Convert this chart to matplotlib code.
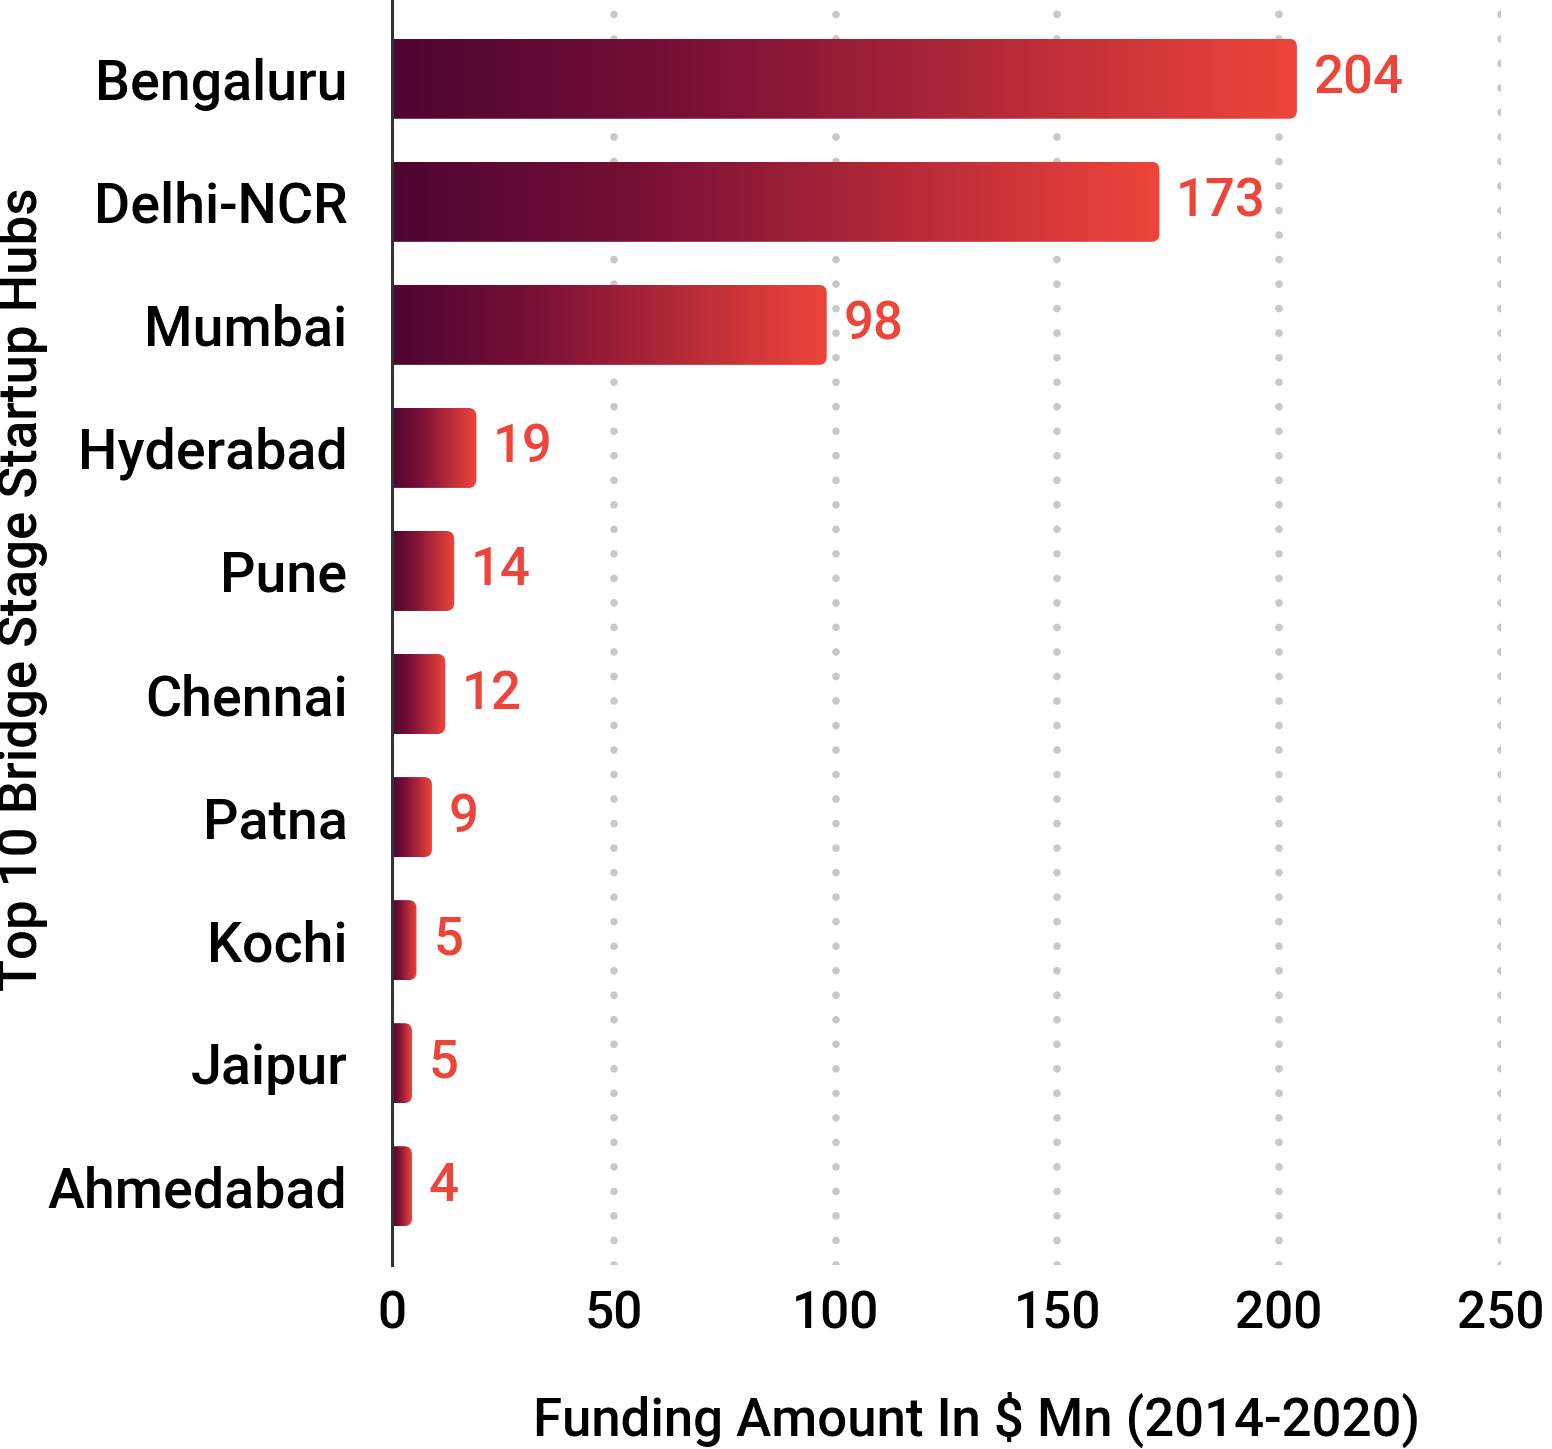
import numpy as np
import matplotlib.pyplot as plt
from matplotlib.patches import FancyBboxPatch
from matplotlib.colors import LinearSegmentedColormap

# データ
cities = ['Bengaluru', 'Delhi-NCR', 'Mumbai', 'Hyderabad', 'Pune',
          'Chennai', 'Patna', 'Kochi', 'Jaipur', 'Ahmedabad']
funding = [204, 173, 98, 19, 14, 12, 9, 5.5, 4.5, 4.5]
labels = ['204', '173', '98', '19', '14', '12', '9', '5', '5', '4']
xticks = [0, 50, 100, 150, 200, 250]

plt.rcParams['font.family'] = ['Roboto', 'DejaVu Sans']
plt.rcParams['font.weight'] = 500
plt.rcParams['axes.labelweight'] = 500

dark = '#4c0530'
red = '#ee453a'
cmap = LinearSegmentedColormap.from_list('bar', [dark, '#7a1036', '#b52a38', red])

fig = plt.figure(figsize=(15.52, 14.49), dpi=100)
ax = fig.add_axes([0.2526, 0.127, 0.7145, 0.873])

# 点線グリッド
for x in xticks[1:]:
    ax.axvline(x, color='#c8c8c8', lw=5.5, linestyle=(0, (0.01, 3.2)),
               dash_capstyle='round', zorder=0)

grad = np.linspace(0, 1, 256).reshape(1, -1)
h = 0.65
for i, (v, lab) in enumerate(zip(funding, labels)):
    # 右端だけ角丸（左側は軸の外に出して隠す）
    box = FancyBboxPatch((-5, i - h / 2), v + 5, h,
                         boxstyle='round,pad=0,rounding_size=1.8',
                         mutation_aspect=0.036, fc='none', ec='none')
    ax.add_patch(box)
    im = ax.imshow(grad, cmap=cmap, aspect='auto',
                   extent=(0, v, i + h / 2, i - h / 2), zorder=2)
    im.set_clip_path(box)
    ax.annotate(lab, (v, i), xytext=(12, 0), textcoords='offset points',
                va='center', ha='left', color=red, fontsize=38)

ax.set_xlim(0, 250)
ax.set_ylim(9.64, -0.64)

ax.set_yticks(range(len(cities)))
ax.set_yticklabels(cities)
ax.set_xticks(xticks)
ax.tick_params(axis='y', length=0, pad=32, labelsize=40)
ax.tick_params(axis='x', length=0, pad=18, labelsize=37)

for s in ['top', 'right', 'bottom']:
    ax.spines[s].set_visible(False)
ax.spines['left'].set_color('#333333')
ax.spines['left'].set_linewidth(2.2)
ax.spines['left'].set_zorder(3)

ax.set_xlabel('Funding Amount In $ Mn (2014-2020)', fontsize=38)
ax.xaxis.set_label_coords(0.5275, -0.1)
ax.set_ylabel('Top 10 Bridge Stage Startup Hubs', fontsize=38)
ax.yaxis.set_label_coords(-0.31, 0.534)

fig.savefig('out.png', dpi=100)
